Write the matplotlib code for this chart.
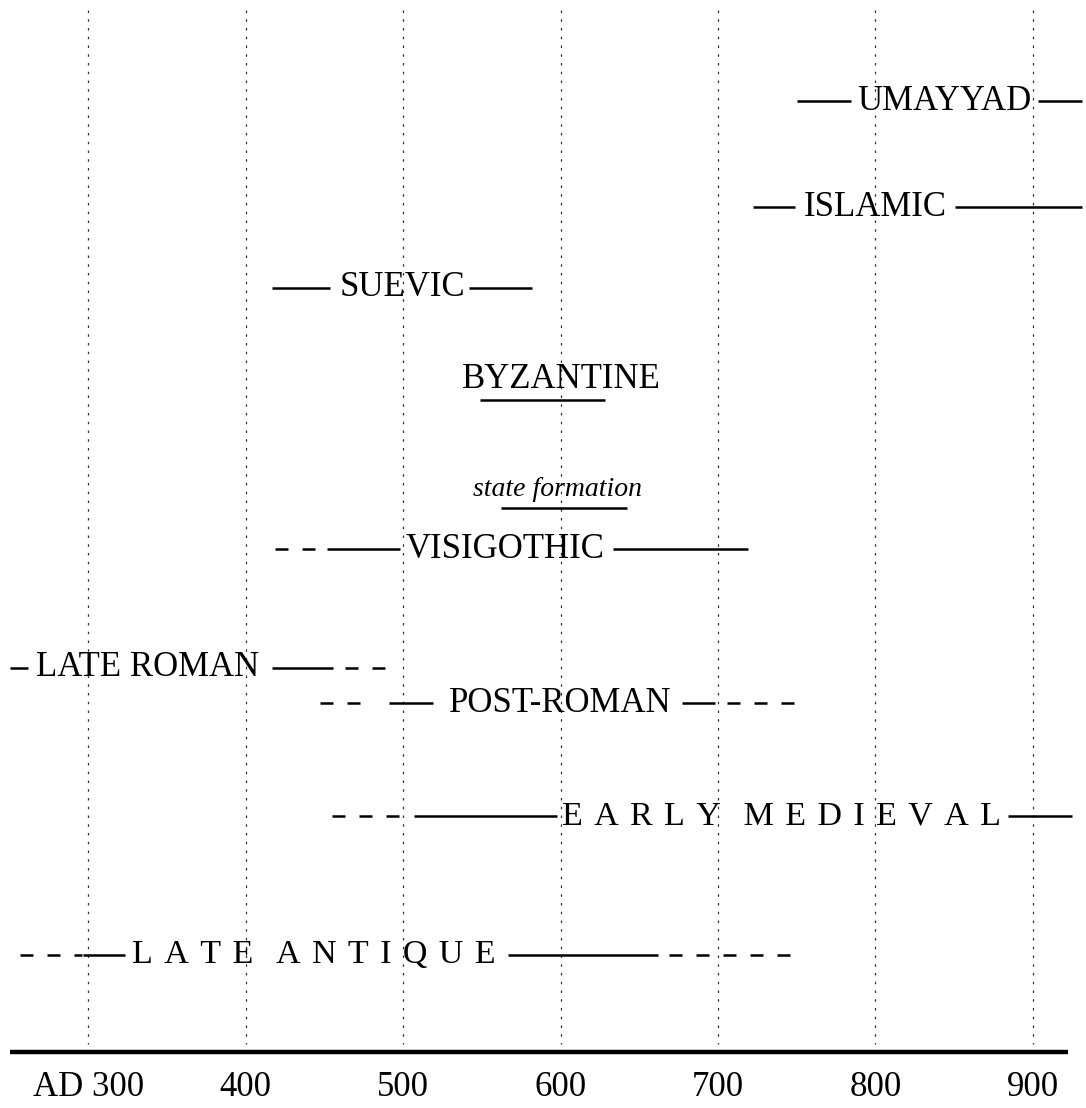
import matplotlib
matplotlib.use("Agg")
import matplotlib.pyplot as plt

# tick years along the bottom
tick_years = [300, 400, 500, 600, 700, 800, 900]
tick_labels = ["AD 300", "400", "500", "600", "700", "800", "900"]

SP = "\u2004"  # letter-spacing for the two spaced-out labels

# period labels, with the solid and dashed spans (years) of each row
periods = ["UMAYYAD", "ISLAMIC", "SUEVIC", "VISIGOTHIC", "LATE ROMAN",
           "POST-ROMAN",
           SP.join("EARLY") + SP * 2 + SP.join("MEDIEVAL"),
           SP.join("LATE") + SP * 2 + SP.join("ANTIQUE")]
label_years = [844, 799.7, 499.4, 564.8, 337.8, 600, 740.6, 443.5]
solid_spans = [
    [(750.2, 784.4), (903.2, 931)],
    [(722, 748.6), (850.5, 931)],
    [(416.8, 453.6), (541.9, 581.9)],
    [(451.7, 498), (633, 719)],
    [(250.5, 262), (416.8, 455.6)],
    [(491, 519), (677, 698)],
    [(507, 598), (884, 925)],
    [(297, 323.5), (566.7, 662)],
]
dashed_spans = [
    [],
    [],
    [],
    [(418.7, 444.4)],
    [(463, 488.6)],
    [(447.3, 480.3), (706, 752)],
    [(455, 498)],
    [(256.8, 296), (668.6, 746)],
]

# underlined notes
notes = ["BYZANTINE", "state formation"]
note_years = [600.3, 598]
note_spans = [(549, 628), (562, 642)]

# layout (pixel rows, figure drawn in pixel space vertically)
row_y = [101, 207, 288, 549, 668, 703, 816, 955]
note_y = [379, 489]
note_line_y = [400, 508]
axis_y = 1052
label_y = 1087

FONT = ["Liberation Serif", "DejaVu Serif"]

fig = plt.figure(figsize=(10.86, 11.08), dpi=100)
ax = fig.add_axes([0, 0, 1, 1])
ax.set_xlim(244, 933.7)
ax.set_ylim(1108, 0)
ax.axis("off")

for yr in tick_years:
    ax.plot([yr, yr], [10, axis_y - 8], color="#333333", lw=0.9,
            linestyle=(0, (2, 5)))

ax.plot([250.5, 922], [axis_y, axis_y], color="black", lw=3.2,
        solid_capstyle="butt")
for yr, lab in zip(tick_years, tick_labels):
    ax.text(yr, label_y, lab, ha="center", va="center", fontsize=25,
            family=FONT)

for i, (name, lx, y, solids, dashes) in enumerate(
        zip(periods, label_years, row_y, solid_spans, dashed_spans)):
    size = 24.5 if i >= 6 else 25
    ax.text(lx, y, name, ha="center", va="center", fontsize=size, family=FONT)
    for a, b in solids:
        ax.plot([a, b], [y, y], color="black", lw=1.8, solid_capstyle="butt")
    for a, b in dashes:
        ax.plot([a, b], [y, y], color="black", lw=1.8,
                linestyle=(0, (5.2, 5.6)), dash_capstyle="butt")

ax.text(note_years[0], note_y[0], notes[0], ha="center", va="center",
        fontsize=25, family=FONT)
ax.text(note_years[1], note_y[1], notes[1], ha="center", va="center",
        fontsize=20, family=FONT, style="italic")
for (a, b), y in zip(note_spans, note_line_y):
    ax.plot([a, b], [y, y], color="black", lw=1.8, solid_capstyle="butt")

fig.savefig("out.png", dpi=100, facecolor="white")
